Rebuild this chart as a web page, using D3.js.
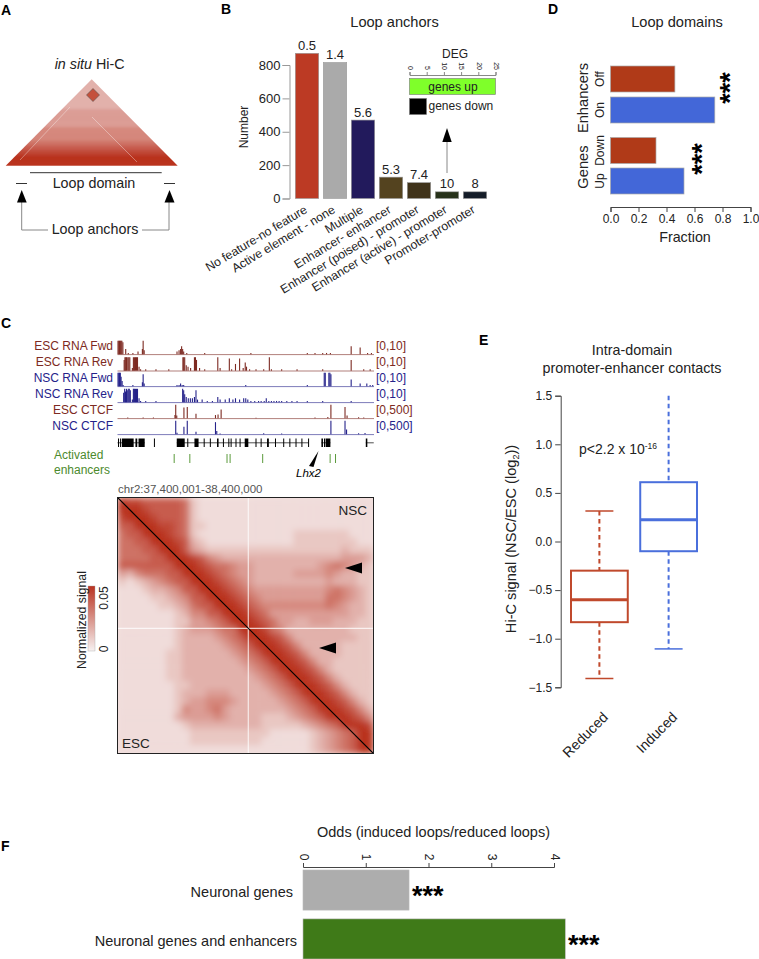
<!DOCTYPE html>
<html><head><meta charset="utf-8">
<script src="https://cdn.jsdelivr.net/npm/d3@7"></script>
<style>
html,body{margin:0;padding:0;background:#fff}
svg{display:block;font-family:"Liberation Sans",Arial,sans-serif}
</style></head><body>
<svg id="c" width="759" height="959" viewBox="0 0 759 959"></svg>
<script>
// ---- data ----
const anchorCats = ["No feature-no feature","Active element - none","Multiple","Enhancer- enhancer","Enhancer (poised) - promoter","Enhancer (active) - promoter","Promoter-promoter"];
const anchorValues = [870,815,470,128,95,40,40];
const anchorDeg = ["0.5","1.4","5.6","5.3","7.4","10","8"];
const anchorColors = ["#bc3a24","#aaaaaa","#221a5c","#54431f","#40331a","#27321a","#141c28"];
const degTicks = [0,5,10,15,20,25];
const degUp = 25;

const domainCats = ["Off","On","Down","Up"];
const domainValues = [0.46,0.745,0.325,0.525];
const domainColors = ["#b03a18","#4367d8","#b03a18","#4367d8"];

const boxCats = ["Reduced","Induced"];
const boxLow = [-1.41,-1.105];
const boxQ1 = [-0.83,-0.10];
const boxMed = [-0.60,0.225];
const boxQ3 = [-0.30,0.61];
const boxHigh = [0.315,1.5];
const boxColors = ["#c0492c","#4a6fdc"];

const oddsCats = ["Neuronal genes","Neuronal genes and enhancers"];
const oddsValues = [1.69,4.18];
const oddsColors = ["#adadad","#3f7a18"];

const trackNames = ["ESC RNA Fwd","ESC RNA Rev","NSC RNA Fwd","NSC RNA Rev","ESC CTCF","NSC CTCF"];
const trackRanges = ["[0,10]","[0,10]","[0,10]","[0,10]","[0,500]","[0,500]"];
const trackMax = [10,10,10,10,500,500];
const trackColors = ["#7d2a22","#7d2a22","#25228a","#25228a","#7d2a22","#25228a"];
// peaks: [position within the 1 Mb window in kb, signal]
const escFwd = [[2,10],[5,10],[8,10],[11,10],[14,10],[17,10],[21,9],[32,4],[42,1],[60,1],[80,2],[97,4],[100,10],[104,3],[232,2],[240,3],[246,4],[250,6],[254,4],[258,2],[270,1],[340,1],[520,1],[740,1],[770,1],[800,1],[815,1],[830,1],[911,6],[946,5],[975,1],[990,1]];
const escRev = [[26,8],[29,10],[32,10],[35,10],[40,10],[44,10],[48,10],[58,2],[62,10],[66,10],[70,10],[74,10],[78,10],[84,3],[90,1],[110,1],[150,1],[200,1],[255,10],[258,10],[262,10],[268,4],[275,3],[285,2],[300,10],[304,10],[308,8],[320,2],[340,1],[391,10],[400,2],[436,9],[445,1],[460,5],[476,9],[490,2],[498,6],[503,3],[515,1],[540,1],[570,1],[592,10],[600,1],[640,1],[700,1],[800,1],[911,8],[960,1],[985,1]];
const nscFwd = [[2,10],[5,10],[8,10],[11,10],[14,7],[18,4],[22,1],[60,1],[97,3],[100,9],[104,2],[232,1],[240,1],[246,2],[252,1],[258,1],[500,1],[740,1],[806,10],[810,10],[824,10],[828,10],[832,9],[911,5],[946,2],[972,2],[985,1],[995,1]];
const nscRev = [[24,7],[28,10],[31,8],[35,10],[38,9],[42,10],[46,10],[50,9],[58,2],[62,10],[66,10],[70,10],[74,10],[78,10],[84,3],[90,1],[110,1],[150,1],[254,10],[258,9],[262,6],[268,4],[276,3],[284,3],[292,3],[300,4],[306,9],[312,2],[330,2],[350,1],[370,1],[391,4],[400,2],[420,2],[436,3],[450,2],[460,3],[476,2],[492,3],[500,3],[508,2],[520,1],[535,1],[550,1],[560,1],[572,1],[580,3],[590,1],[600,1],[610,1],[620,1],[630,1],[640,1],[660,1],[680,1],[700,1],[740,1],[800,1],[911,1]];
const escCtcf = [[224,120],[227,500],[231,100],[259,400],[272,420],[306,170],[382,120],[392,140],[404,330],[540,20],[770,30],[820,50],[832,500],[887,420],[895,100],[940,40],[960,30],[40,30],[100,30],[140,30]];
const nscCtcf = [[227,500],[232,60],[259,280],[272,500],[306,90],[382,450],[387,120],[400,30],[570,40],[640,30],[832,500],[887,500],[893,180],[940,40],[965,50]];
const trackPeaks = [escFwd,escRev,nscFwd,nscRev,escCtcf,nscCtcf];
const geneLines = [[0,106],[231,745],[795,830],[968,999]];
const geneExons = [[2,6],[10,14],[17,63],[70,77],[82,106],[142,144],[231,262],[272,274],[300,316],[336,338],[360,362],[388,394],[411,413],[432,434],[441,443],[460,462],[476,478],[496,510],[538,540],[558,560],[583,590],[614,616],[646,648],[670,672],[694,696],[717,719],[743,745],[795,801],[805,810],[812,830],[968,974]];
const enhancers = [221,282,427,439,566,829,850];

// upper triangle NSC, lower triangle ESC: estimated contact signal on a 32 x 32 grid (0-9)
const contactRows = [
"98877777621111111111111111111111",
"99987777621111111111111111111111",
"89998777621111111111111111111111",
"77999887622111111111111111111111",
"67799987621111111111112222222111",
"66779998732111111111112222222211",
"66677999743222222222222222223222",
"66667799987543333333333333334443",
"77777779998766544333333334565432",
"43566677999876544333334444543322",
"21234567799987654333333333433322",
"11123345779998765444444444565432",
"11112234577999876544444444665432",
"11111223467799987655555555654332",
"11111112355779998764444444444332",
"11111112244567999876443344433322",
"11111112344456699986533333333222",
"11111112333345679998753333333322",
"11111112333334567999875333332222",
"11111122333333456799987533332222",
"11111122333333345679998753322222",
"11111122333333334567999875322222",
"11111122333333333456799987532222",
"11111112233333333345679998753222",
"11111112333444333334567999875322",
"11111112344555433333456799987532",
"11111112544564333333345679998753",
"11111113444454333322234567999875",
"11111111233333333322222345679998",
"11111111122222222221111123456799",
"11111111122222222211111123456799",
"11111111111111111111111123456799"
];
const bandSignal = [9,9,9,8,7,6,5,5,5,4,4,4,4,3,3,3,3,3,3,3]; // triangle in A: signal from base to apex

// ---- helpers ----
const svg = d3.select("#c");
const FG = "#222";
function txt(x,y,s,o={}){
  const t = svg.append("text").attr("x",x).attr("y",y).text(s)
    .attr("font-size",o.size||12).attr("fill",o.fill||FG)
    .attr("text-anchor",o.anchor||"middle");
  if(o.weight) t.attr("font-weight",o.weight);
  if(o.style) t.attr("font-style",o.style);
  if(o.rot!==undefined) t.attr("transform",`rotate(${o.rot} ${x} ${y})`);
  return t;
}
function tri(pts,fill){ svg.append("path").attr("d","M"+pts.map(p=>p.join(",")).join("L")+"Z").attr("fill",fill); }
function styleAxis(g,color,size){
  g.selectAll("path,line").attr("stroke",color).attr("stroke-width",1);
  g.selectAll("text").attr("font-size",size).attr("fill",FG).attr("font-family",'"Liberation Sans",Arial,sans-serif');
}
const heatColor = d3.scaleLinear().domain([0,9]).range(["#f7f1f1","#b9321f"]);

// panel letters
[["A",1,15],["B",221,14],["C",1,328],["D",548,14],["E",479,345],["F",1,851]].forEach(d=>
  txt(d[1],d[2],d[0],{anchor:"start",size:14,weight:"bold",fill:"#000"}));

// ---- A ----
txt(92,68.5,"in situ",{size:14.3,anchor:"end",style:"italic"});
txt(96,68.5,"Hi-C",{size:14.3,anchor:"start"});
const defsA = svg.append("defs");
defsA.append("clipPath").attr("id","triClip").append("path").attr("d","M5.7,165.7L91.7,79.3L177.7,165.7Z");
defsA.append("filter").attr("id","softA").attr("x","-5%").attr("y","-5%").attr("width","110%").attr("height","110%")
  .append("feGaussianBlur").attr("stdDeviation",1.6);
const gA = svg.append("g").attr("clip-path","url(#triClip)");
const bandY = d3.scaleBand().domain(d3.range(bandSignal.length)).range([168,77]);
gA.append("g").attr("filter","url(#softA)").selectAll("rect").data(bandSignal).join("rect").attr("x",0).attr("width",190)
  .attr("y",(d,i)=>bandY(i)-0.3).attr("height",bandY.bandwidth()+0.6).attr("fill",d=>heatColor(d));
gA.append("path").attr("d","M92,117L137,162M70,107L20,160").attr("stroke","#fff").attr("stroke-opacity",.4).attr("stroke-width",.9).attr("fill","none");
gA.append("path").attr("d","M93,88.5L99.5,95L93,101.5L86.5,95Z").attr("fill","#c4503c").attr("stroke","#555").attr("stroke-width",.6);
svg.append("path").attr("d","M30,172.7H161.7M16,183.5H27M164,183.5H175").attr("stroke","#333").attr("stroke-width",1);
svg.append("path").attr("d","M21.7,202V230H48M142,230H169V202").attr("stroke","#888").attr("stroke-width",1).attr("fill","none");
tri([[21.7,190],[17,202.5],[26.7,202.5]],"#000");
tri([[169.5,190],[164.5,202.5],[174.5,202.5]],"#000");
txt(94,187.5,"Loop domain",{size:14.3});
txt(95,233.5,"Loop anchors",{size:14.3});

// ---- B ----
const bx = d3.scaleBand().domain(anchorCats).range([295.3,486.7]).paddingInner(0.164).paddingOuter(0);
const by = d3.scaleLinear().domain([0,800]).range([198.5,65]);
anchorCats.forEach((c,i)=>{
  svg.append("rect").attr("x",bx(c)).attr("y",by(anchorValues[i])).attr("width",bx.bandwidth())
    .attr("height",by(0)-by(anchorValues[i])).attr("fill",anchorColors[i]).attr("stroke","#999").attr("stroke-width",.6);
  txt(bx(c)+bx.bandwidth()/2,by(anchorValues[i])-3.5,anchorDeg[i],{size:13});
  const cx=bx(c)+bx.bandwidth()/2+1, cy=212;
  txt(cx,cy,c,{size:12.2,anchor:"end",rot:-31});
});
const axB = svg.append("g").attr("transform","translate(289.5,0)").call(d3.axisLeft(by).tickValues([0,200,400,600,800]).tickSize(7).tickPadding(2));
styleAxis(axB,"#999",13);
txt(394.5,27,"Loop anchors",{size:14.6});
txt(248,127,"Number",{size:12,rot:-90});
// inset
const degX = d3.scaleLinear().domain([0,25]).range([409.5,495.5]);
const axD = svg.append("g").attr("transform","translate(0,75)").call(d3.axisTop(degX).tickValues(degTicks).tickSize(3).tickPadding(1));
styleAxis(axD,"#888",7);
axD.selectAll("text").attr("transform","rotate(90)").attr("text-anchor","end").attr("x",-5).attr("y",0).attr("dy","0.32em");
txt(455,58,"DEG",{size:12});
svg.append("rect").attr("x",degX(0)).attr("y",78.5).attr("width",degX(degUp)-degX(0)).attr("height",16).attr("fill","#7fff2a").attr("stroke","#777").attr("stroke-width",.6);
txt(453,90.5,"genes up",{size:12});
svg.append("rect").attr("x",degX(0)).attr("y",98.5).attr("width",17).attr("height",16).attr("fill","#000").attr("stroke","#777").attr("stroke-width",.6);
txt(428.5,109.5,"genes down",{size:12,anchor:"start"});
svg.append("path").attr("d","M447,173V142").attr("stroke","#888").attr("fill","none");
tri([[447,128],[442.3,142],[451.7,142]],"#000");

// ---- D ----
const dx = d3.scaleLinear().domain([0,1]).range([610.5,750.5]);
const dyPos = [66,97,137.5,168];
domainCats.forEach((c,i)=>{
  svg.append("rect").attr("x",dx(0)).attr("y",dyPos[i]).attr("width",dx(domainValues[i])-dx(0)).attr("height",26)
    .attr("fill",domainColors[i]).attr("stroke","#aaa").attr("stroke-width",.7);
  txt(604,dyPos[i]+13,c,{size:12,rot:-90});
});
const axDx = svg.append("g").attr("transform","translate(0,207)").call(d3.axisBottom(dx).tickValues([0,.2,.4,.6,.8,1]).tickFormat(d3.format(".1f")).tickSize(5).tickPadding(2));
styleAxis(axDx,"#444",12);
txt(587.5,98,"Enhancers",{size:14.7,rot:-90});
txt(587.5,167,"Genes",{size:14.7,rot:-90});
txt(677,27,"Loop domains",{size:14.6});
txt(685,242,"Fraction",{size:14.3});
txt(722,88,"***",{size:27,weight:"bold",rot:-90,anchor:"middle",fill:"#000"}).attr("dy","0.62em").attr("dx",0);
txt(694,159,"***",{size:27,weight:"bold",rot:-90,anchor:"middle",fill:"#000"}).attr("dy","0.62em");

// ---- C tracks ----
const tx = d3.scaleLinear().domain([0,1000]).range([117.5,374]);
const trackBase = [354.3,370.7,386.3,402.3,418.3,434.3];
trackNames.forEach((n,i)=>{
  const ty = d3.scaleLinear().domain([0,trackMax[i]]).range([trackBase[i],trackBase[i]-13.5]);
  svg.append("g").selectAll("line").data(trackPeaks[i]).join("line")
    .attr("x1",d=>tx(d[0])).attr("x2",d=>tx(d[0])).attr("y1",ty(0)).attr("y2",d=>ty(d[1]))
    .attr("stroke",trackColors[i]).attr("stroke-width",1.1);
  svg.append("line").attr("x1",tx(0)).attr("x2",tx(1000)).attr("y1",ty(0)+.3).attr("y2",ty(0)+.3)
    .attr("stroke",trackColors[i]).attr("stroke-opacity",.75).attr("stroke-width",.8);
  txt(113,trackBase[i]-4.5,n,{size:12,anchor:"end",fill:trackColors[i]});
  txt(376,trackBase[i]-4.5,trackRanges[i],{size:12,anchor:"start",fill:trackColors[i]});
});
svg.append("g").selectAll("line").data(geneLines).join("line")
  .attr("x1",d=>tx(d[0])).attr("x2",d=>tx(d[1])).attr("y1",442.8).attr("y2",442.8).attr("stroke","#222").attr("stroke-width",.8);
svg.append("g").selectAll("rect").data(geneExons).join("rect")
  .attr("x",d=>tx(d[0])).attr("width",d=>Math.max(1,tx(d[1])-tx(d[0]))).attr("y",438.5).attr("height",8.5).attr("fill","#000");
svg.append("g").selectAll("line").data(enhancers).join("line")
  .attr("x1",d=>tx(d)).attr("x2",d=>tx(d)).attr("y1",454).attr("y2",463).attr("stroke","#5b9a3c").attr("stroke-width",1);
txt(54,459,"Activated",{size:12,anchor:"start",fill:"#4c8a2c"});
txt(54,474,"enhancers",{size:12,anchor:"start",fill:"#4c8a2c"});
tri([[318.5,451],[309,466],[313.5,467]],"#000");
txt(308.5,477,"Lhx2",{size:11.5,style:"italic",fill:"#000"});
txt(118,493,"chr2:37,400,001-38,400,000",{size:11.5,anchor:"start",fill:"#555"});

// ---- C heat map ----
const hx = d3.scaleLinear().domain([0,32]).range([118,373]);
const hy = d3.scaleLinear().domain([0,32]).range([498,753]);
const defsH = svg.append("defs");
defsH.append("clipPath").attr("id","hClip").append("rect").attr("x",118).attr("y",498).attr("width",255).attr("height",255);
defsH.append("filter").attr("id","soft").attr("x","-5%").attr("y","-5%").attr("width","110%").attr("height","110%")
  .append("feGaussianBlur").attr("stdDeviation",3.2);
const hOuter = svg.append("g").attr("clip-path","url(#hClip)");
hOuter.append("rect").attr("x",118).attr("y",498).attr("width",255).attr("height",255).attr("fill","#f2e2e0");
const hG = hOuter.append("g").attr("filter","url(#soft)");
contactRows.forEach((row,r)=>{
  hG.append("g").selectAll("rect").data(row.split("").map(Number)).join("rect")
    .attr("x",(d,i)=>hx(i)).attr("y",hy(r)).attr("width",hx(1)-hx(0)+.5).attr("height",hy(1)-hy(0)+.5)
    .attr("fill",d=>heatColor(d));
});
hOuter.append("line").attr("x1",hx(16.35)).attr("x2",hx(16.35)).attr("y1",hy(0)).attr("y2",hy(32)).attr("stroke","#fff").attr("stroke-opacity",.75).attr("stroke-width",1.2);
hOuter.append("line").attr("y1",hy(16.35)).attr("y2",hy(16.35)).attr("x1",hx(0)).attr("x2",hx(32)).attr("stroke","#fff").attr("stroke-opacity",.75).attr("stroke-width",1.2);
hOuter.append("line").attr("x1",hx(0)).attr("y1",hy(0)).attr("x2",hx(32)).attr("y2",hy(32)).attr("stroke","#000").attr("stroke-width",1.2);
svg.append("rect").attr("x",117.5).attr("y",497.5).attr("width",256).attr("height",256).attr("fill","none").attr("stroke","#222").attr("stroke-width",1);
tri([[345,568],[362,562.5],[362,573.5]],"#000");
tri([[319,648],[336,642.5],[336,653.5]],"#000");
txt(367,514.5,"NSC",{size:13.5,anchor:"end"});
txt(122,747.5,"ESC",{size:13.5,anchor:"start"});
// colour bar
const barGrad = svg.append("defs").append("linearGradient").attr("id","cb").attr("x1",0).attr("x2",0).attr("y1",1).attr("y2",0);
[[0,"#f7f1f1"],[1,"#b9321f"]].forEach(s=>barGrad.append("stop").attr("offset",s[0]).attr("stop-color",s[1]));
svg.append("rect").attr("x",88).attr("y",586).attr("width",7).attr("height",65).attr("fill","url(#cb)").attr("stroke","#aaa").attr("stroke-width",.4);
txt(108,598,"0.05",{size:12,rot:-90});
txt(108,649,"0",{size:12,rot:-90});
txt(85.5,620,"Normalized signal",{size:12.3,rot:-90});

// ---- E ----
const ey = d3.scaleLinear().domain([-1.5,1.5]).range([687.3,395.7]);
const ex = d3.scaleBand().domain(boxCats).range([571,697]).paddingInner(14/70*0.9).paddingOuter(0);
const axE = svg.append("g").attr("transform","translate(560.7,0)").call(d3.axisLeft(ey).tickValues([-1.5,-1,-.5,0,.5,1,1.5]).tickFormat(d=>d3.format(".1f")(d).replace("-","\u2212")).tickSize(5.5).tickPadding(3));
styleAxis(axE,"#444",12);
boxCats.forEach((c,i)=>{
  const x0=ex(c), w=ex.bandwidth(), cx=x0+w/2, col=boxColors[i];
  svg.append("path").attr("d",`M${cx},${ey(boxHigh[i])}V${ey(boxQ3[i])}M${cx},${ey(boxQ1[i])}V${ey(boxLow[i])}`)
    .attr("stroke",col).attr("stroke-width",2).attr("stroke-dasharray","4.5 3.5").attr("fill","none");
  svg.append("path").attr("d",`M${cx-14},${ey(boxLow[i])}H${cx+14}`+(i==0?`M${cx-14},${ey(boxHigh[i])}H${cx+14}`:""))
    .attr("stroke",col).attr("stroke-width",1.5).attr("fill","none");
  svg.append("rect").attr("x",x0).attr("y",ey(boxQ3[i])).attr("width",w).attr("height",ey(boxQ1[i])-ey(boxQ3[i]))
    .attr("fill","#fff").attr("stroke",col).attr("stroke-width",2);
  svg.append("line").attr("x1",x0).attr("x2",x0+w).attr("y1",ey(boxMed[i])).attr("y2",ey(boxMed[i])).attr("stroke",col).attr("stroke-width",3);
  txt(cx+3.5,712,c,{size:14.3,anchor:"end",rot:-45}).attr("dy","0.6em");
});
txt(632,355,"Intra-domain",{size:14.3});
txt(632,372.5,"promoter-enhancer contacts",{size:14.3});
const yl = svg.append("text").attr("x",516).attr("y",539).attr("text-anchor","middle").attr("font-size",14.6).attr("fill",FG).attr("transform","rotate(-90 516 539)");
yl.append("tspan").text("Hi-C signal (NSC/ESC (log");
yl.append("tspan").text("2").attr("font-size",9).attr("dy",3);
yl.append("tspan").text("))").attr("dy",-3);
const pt = svg.append("text").attr("x",579).attr("y",454).attr("font-size",14).attr("fill",FG);
pt.append("tspan").text("p<2.2 x 10");
pt.append("tspan").text("-16").attr("font-size",8.5).attr("dy",-5);

// ---- F ----
const fx = d3.scaleLinear().domain([0,4]).range([303,554]);
const fy = d3.scaleBand().domain(oddsCats).range([870,959]).paddingInner(0.18).paddingOuter(0);
oddsCats.forEach((c,i)=>{
  svg.append("rect").attr("x",fx(0)).attr("y",fy(c)).attr("width",fx(oddsValues[i])-fx(0)).attr("height",fy.bandwidth())
    .attr("fill",oddsColors[i]).attr("stroke","#bbb").attr("stroke-width",.6);
});
const axF = svg.append("g").attr("transform","translate(0,867)").call(d3.axisTop(fx).tickValues([0,1,2,3,4]).tickFormat(d3.format("d")).tickSize(4).tickPadding(2));
styleAxis(axF,"#444",12);
axF.selectAll("text").attr("transform","rotate(90)").attr("text-anchor","middle").attr("x",-10).attr("y",0).attr("dy","0.32em");
txt(293,897,oddsCats[0],{size:14.5,anchor:"end"});
txt(297,946,oddsCats[1],{size:14.5,anchor:"end"});
txt(412,905,"***",{size:27,weight:"bold",anchor:"start",fill:"#000"});
txt(568,954,"***",{size:27,weight:"bold",anchor:"start",fill:"#000"});
txt(433.5,837,"Odds (induced loops/reduced loops)",{size:14.5});
</script>
</body></html>
